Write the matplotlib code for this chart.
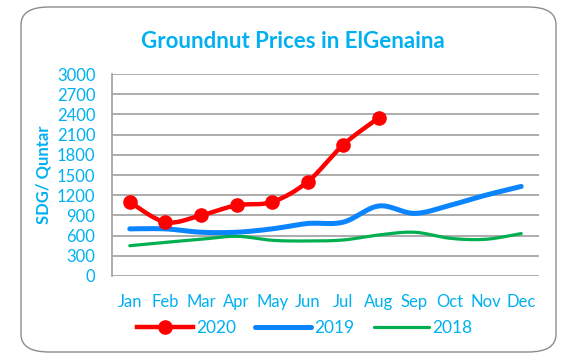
import numpy as np
import matplotlib
matplotlib.use("Agg")
import matplotlib.pyplot as plt
from matplotlib.patches import FancyBboxPatch
from matplotlib.lines import Line2D

months = ["Jan", "Feb", "Mar", "Apr", "May", "Jun", "Jul", "Aug", "Sep", "Oct", "Nov", "Dec"]
prices_2020 = [1100, 800, 900, 1050, 1100, 1400, 1950, 2350]
prices_2019 = [700, 700, 650, 650, 700, 780, 800, 1040, 930, 1050, 1200, 1330]
prices_2018 = [450, 500, 545, 590, 530, 520, 535, 610, 650, 560, 545, 630]
y_ticks = [0, 300, 600, 900, 1200, 1500, 1800, 2100, 2400, 2700, 3000]

TEXT = "#00B0F0"
GRID = "#A6A6A6"
plt.rcParams["font.family"] = ["Lato", "DejaVu Sans"]


def smooth(values, n=30):
    """Smoothed curve through the points (cubic Bezier, Catmull-Rom tangents)."""
    p = np.column_stack([np.arange(len(values)), np.asarray(values, float)])
    ext = np.vstack([p[0], p, p[-1]])
    out = [p[0]]
    t = np.linspace(0, 1, n)[1:, None]
    for i in range(len(p) - 1):
        p0, p1, p2, p3 = ext[i], ext[i + 1], ext[i + 2], ext[i + 3]
        c1 = p1 + (p2 - p0) / 6
        c2 = p2 - (p3 - p1) / 6
        seg = ((1 - t) ** 3) * p1 + 3 * ((1 - t) ** 2) * t * c1 + 3 * (1 - t) * t ** 2 * c2 + t ** 3 * p2
        out.extend(seg)
    out = np.array(out)
    return out[:, 0], out[:, 1]


fig = plt.figure(figsize=(5.61, 3.53), dpi=100)

frame = FancyBboxPatch((21 / 561, 1 - 352 / 353), (556 - 21) / 561, (352 - 7) / 353,
                       boxstyle="round,pad=0,rounding_size=0.05",
                       transform=fig.transFigure, facecolor="white",
                       edgecolor="#8C8C8C", linewidth=1.0, zorder=-1)
fig.patches.append(frame)

ax = fig.add_axes([112 / 561, 1 - 276 / 353, (539 - 112) / 561, (276 - 74) / 353])
ax.set_facecolor("none")
ax.set_zorder(1)

x18, y18 = smooth(prices_2018)
x19, y19 = smooth(prices_2019)
x20, y20 = smooth(prices_2020)
ax.plot(x18, y18, color="#00B050", lw=2.3, solid_capstyle="round", zorder=3)
ax.plot(x19, y19, color="#0A84FF", lw=3.6, solid_capstyle="round", zorder=4)
ax.plot(x20, y20, color="#FF0000", lw=3.2, solid_capstyle="round", zorder=5)
ax.plot(range(len(prices_2020)), prices_2020, "o", color="#FF0000", ms=9.5, zorder=6)

ax.set_xlim(-0.5, len(months) - 0.5)
ax.set_ylim(0, 3000)
ax.set_yticks(y_ticks)
ax.set_xticks(range(len(months)))
ax.set_xticklabels(months)
ax.yaxis.grid(True, color=GRID, lw=1.3)
ax.set_axisbelow(True)
for side in ["top", "right", "bottom"]:
    ax.spines[side].set_visible(False)
ax.spines["left"].set_color(GRID)
ax.spines["left"].set_linewidth(1.3)
ax.tick_params(axis="both", length=0, colors=TEXT, labelsize=12)
ax.tick_params(axis="x", pad=13)
ax.tick_params(axis="y", pad=12)

ax.set_ylabel("SDG/ Quntar", color=TEXT, fontsize=12, fontweight="bold", labelpad=4)

fig.text(293 / 561, 1 - 42 / 353, "Groundnut Prices in ElGenaina", color=TEXT,
         fontsize=16, fontweight="bold", ha="center", va="center")

handles = [
    Line2D([], [], color="#FF0000", lw=3.2, marker="o", ms=9.5),
    Line2D([], [], color="#0A84FF", lw=3.6, solid_capstyle="round"),
    Line2D([], [], color="#00B050", lw=2.3, solid_capstyle="round"),
]
leg = fig.legend(handles, ["2020", "2019", "2018"], loc="center",
                 bbox_to_anchor=(305 / 561, 1 - 328 / 353), ncol=3, frameon=False,
                 fontsize=12.5, handlelength=3.2, columnspacing=1.1, handletextpad=0.2,
                 labelcolor=TEXT)

fig.savefig("out.png", dpi=100)
